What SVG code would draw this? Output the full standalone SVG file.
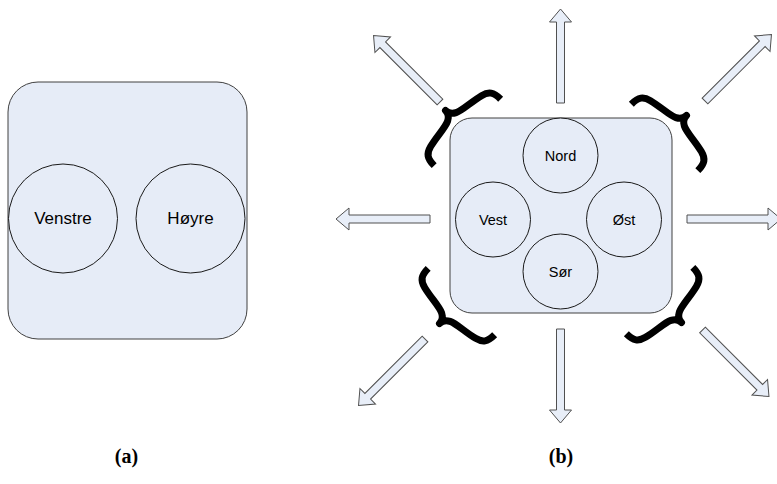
<svg xmlns="http://www.w3.org/2000/svg" width="777" height="484" viewBox="0 0 777 484">
<defs>
<style>
.box{fill:#E6ECF7;stroke:#404040;stroke-width:1}
.node{fill:#E6ECF7;stroke:#1a1a1a;stroke-width:1}
.lbl{font-family:"Liberation Sans",Arial,sans-serif;fill:#000;text-anchor:middle}
.cap{font-family:"Liberation Serif","Times New Roman",serif;font-weight:bold;font-size:20px;fill:#000;text-anchor:middle}
.arr{fill:#E8EEF8;stroke:#505050;stroke-width:1}
.brace{fill:none;stroke:#000;stroke-width:7;stroke-linejoin:round}
</style>
<polygon id="arrow" class="arr" points="0,-4 81,-4 81,-11 94,0 81,11 81,4 0,4"/>
<path id="brace" class="brace" d="M -47,2 C -47,-8 -44,-12 -36,-14 C -24,-17 -12,-17 -6,-20 C -2,-22 0,-25 0,-29 C 0,-25 2,-22 6,-20 C 12,-17 24,-17 36,-14 C 44,-12 47,-8 47,2"/>
</defs>
<rect width="777" height="484" fill="#fff"/>

<g id="panel-a">
<rect class="box" x="8" y="82" width="239" height="257" rx="30" ry="30"/>
<g id="venstre">
<circle class="node" cx="63" cy="218.5" r="54.5"/>
<text class="lbl" x="63" y="224" font-size="17">Venstre</text>
</g>
<g id="hoyre">
<circle class="node" cx="190.5" cy="218.5" r="54.5"/>
<text class="lbl" x="190.5" y="224" font-size="17">Høyre</text>
</g>
<text class="cap" x="126.5" y="463">(a)</text>
</g>

<g id="panel-b">
<rect class="box" x="450" y="118" width="222" height="195" rx="22" ry="22"/>
<g id="nord">
<circle class="node" cx="560.5" cy="155.5" r="37.5"/>
<text class="lbl" x="560.5" y="161" font-size="14.5">Nord</text>
</g>
<g id="vest">
<circle class="node" cx="493" cy="219.5" r="37.5"/>
<text class="lbl" x="493" y="224.5" font-size="14.5">Vest</text>
</g>
<g id="ost">
<circle class="node" cx="624" cy="219.5" r="37.5"/>
<text class="lbl" x="624" y="224.5" font-size="14.5">Øst</text>
</g>
<g id="sor">
<circle class="node" cx="560.5" cy="271.5" r="37.5"/>
<text class="lbl" x="560.5" y="276.5" font-size="14.5">Sør</text>
</g>
<text class="cap" x="561" y="463">(b)</text>
</g>

<g id="connectors">
<use href="#arrow" transform="translate(560.5,103) rotate(-90)"/>
<use href="#arrow" transform="translate(560.5,329) rotate(90)"/>
<use href="#arrow" transform="translate(430,219) rotate(180)"/>
<use href="#arrow" transform="translate(687,219)"/>
<use href="#arrow" transform="translate(440,102) rotate(-135)"/>
<use href="#arrow" transform="translate(705,101) rotate(-45)"/>
<use href="#arrow" transform="translate(425,339) rotate(135)"/>
<use href="#arrow" transform="translate(702.5,330) rotate(45)"/>
<use href="#brace" transform="translate(466,131) rotate(-45)"/>
<use href="#brace" transform="translate(666,136) rotate(45)"/>
<use href="#brace" transform="translate(460,303) rotate(-135)"/>
<use href="#brace" transform="translate(661,302) rotate(135)"/>
</g>
</svg>
